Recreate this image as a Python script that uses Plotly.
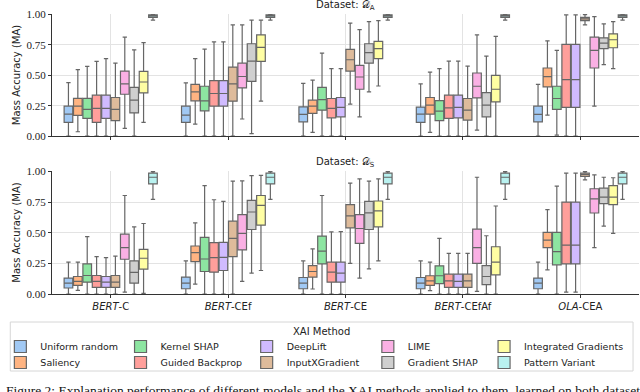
import plotly.graph_objects as go

MODELS = ["BERT-C", "BERT-CEf", "BERT-CE", "BERT-CEfAf", "OLA-CEA"]
MODEL_LABELS = ["<i>BERT</i>-C", "<i>BERT</i>-CEf", "<i>BERT</i>-CE",
                "<i>BERT</i>-CEfAf", "<i>OLA</i>-CEA"]
METHODS = ["Uniform random", "Saliency", "Kernel SHAP", "Guided Backprop",
           "DeepLift", "InputXGradient", "LIME", "Gradient SHAP",
           "Integrated Gradients", "Pattern Variant"]
COLORS = ["#a1c9f4", "#ffb482", "#8de5a1", "#ff9f9b", "#d0bbff",
          "#debb9b", "#fab0e4", "#cfcfcf", "#fffea3", "#b9f2f0"]

# Dataset D_A: one row per method, one value per model
A_LOW = [
    [0, 0, 0, 0, 0],
    [0.035, 0.098, 0.03, 0.03, 0.172],
    [0, 0, 0, 0, 0.008],
    [0, 0, 0, 0, 0],
    [0, 0, 0, 0, 0],
    [0, 0, 0.262, 0, 0.915],
    [0.063, 0.14, 0.158, 0.049, 0.246],
    [0, 0.02, 0.363, 0, 0.588],
    [0.112, 0.287, 0.412, 0, 0.555],
    [0.955, 0.955, 0.955, 0.955, 0.955],
]
A_Q1 = [
    [0.112, 0.112, 0.117, 0.112, 0.117],
    [0.17, 0.29, 0.186, 0.18, 0.404],
    [0.145, 0.207, 0.213, 0.126, 0.219],
    [0.112, 0.246, 0.15, 0.145, 0.235],
    [0.145, 0.246, 0.158, 0.15, 0.235],
    [0.126, 0.287, 0.535, 0.131, 0.95],
    [0.344, 0.396, 0.385, 0.314, 0.56],
    [0.19, 0.45, 0.60, 0.158, 0.719],
    [0.355, 0.615, 0.637, 0.281, 0.727],
    [0.978, 0.978, 0.978, 0.978, 0.978],
]
A_MED = [
    [0.18, 0.172, 0.178, 0.18, 0.178],
    [0.246, 0.363, 0.246, 0.254, 0.489],
    [0.22, 0.29, 0.30, 0.205, 0.309],
    [0.227, 0.35, 0.227, 0.232, 0.465],
    [0.227, 0.35, 0.235, 0.235, 0.465],
    [0.219, 0.43, 0.628, 0.213, 0.965],
    [0.43, 0.49, 0.486, 0.41, 0.705],
    [0.295, 0.617, 0.686, 0.254, 0.765],
    [0.445, 0.73, 0.72, 0.385, 0.793],
    [0.99, 0.99, 0.99, 0.99, 0.99],
]
A_Q3 = [
    [0.246, 0.246, 0.24, 0.238, 0.246],
    [0.31, 0.426, 0.295, 0.317, 0.56],
    [0.31, 0.41, 0.40, 0.292, 0.41],
    [0.336, 0.456, 0.309, 0.336, 0.754],
    [0.336, 0.456, 0.317, 0.336, 0.754],
    [0.317, 0.568, 0.713, 0.309, 0.978],
    [0.535, 0.60, 0.582, 0.519, 0.814],
    [0.40, 0.76, 0.76, 0.357, 0.809],
    [0.533, 0.833, 0.78, 0.50, 0.842],
    [0.998, 0.998, 0.998, 0.998, 0.998],
]
A_HIGH = [
    [0.44, 0.437, 0.434, 0.43, 0.426],
    [0.547, 0.637, 0.46, 0.527, 0.784],
    [0.574, 0.715, 0.683, 0.555, 0.705],
    [0.615, 0.775, 0.555, 0.617, 0.997],
    [0.637, 0.775, 0.555, 0.617, 0.997],
    [0.60, 0.915, 0.93, 0.576, 1.0],
    [0.814, 0.915, 0.877, 0.833, 0.984],
    [0.71, 0.955, 0.943, 0.658, 0.924],
    [0.77, 0.955, 0.95, 0.82, 0.943],
    [1.0, 1.0, 1.0, 1.0, 1.0],
]

# Dataset D_S
S_LOW = [
    [0, 0, 0, 0, 0],
    [0.03, 0.081, 0.041, 0.027, 0.197],
    [0, 0, 0, 0, 0],
    [0, 0, 0, 0, 0.015],
    [0, 0, 0, 0, 0.015],
    [0, 0, 0.251, 0, 0.933],
    [0.016, 0.103, 0.13, 0.022, 0.379],
    [0, 0.17, 0.205, 0, 0.554],
    [0.005, 0.192, 0.27, 0, 0.495],
    [0.773, 0.773, 0.773, 0.773, 0.773],
]
S_Q1 = [
    [0.049, 0.043, 0.043, 0.043, 0.043],
    [0.07, 0.265, 0.138, 0.07, 0.379],
    [0.097, 0.184, 0.246, 0.084, 0.238],
    [0.054, 0.178, 0.097, 0.054, 0.246],
    [0.054, 0.192, 0.097, 0.054, 0.246],
    [0.054, 0.305, 0.541, 0.054, 0.96],
    [0.284, 0.36, 0.414, 0.251, 0.662],
    [0.089, 0.527, 0.527, 0.076, 0.738],
    [0.203, 0.562, 0.549, 0.157, 0.73],
    [0.90, 0.90, 0.90, 0.90, 0.90],
]
S_MED = [
    [0.089, 0.089, 0.089, 0.089, 0.089],
    [0.103, 0.338, 0.184, 0.108, 0.44],
    [0.151, 0.286, 0.351, 0.149, 0.346],
    [0.103, 0.297, 0.178, 0.108, 0.40],
    [0.097, 0.30, 0.17, 0.103, 0.40],
    [0.097, 0.454, 0.638, 0.108, 0.975],
    [0.379, 0.495, 0.535, 0.379, 0.778],
    [0.176, 0.67, 0.663, 0.143, 0.792],
    [0.292, 0.724, 0.679, 0.26, 0.792],
    [0.954, 0.954, 0.954, 0.954, 0.954],
]
S_Q3 = [
    [0.13, 0.138, 0.135, 0.135, 0.13],
    [0.143, 0.392, 0.232, 0.149, 0.503],
    [0.246, 0.462, 0.473, 0.23, 0.503],
    [0.151, 0.419, 0.26, 0.162, 0.751],
    [0.143, 0.422, 0.26, 0.162, 0.751],
    [0.151, 0.595, 0.73, 0.162, 0.987],
    [0.489, 0.649, 0.649, 0.53, 0.86],
    [0.27, 0.765, 0.757, 0.232, 0.865],
    [0.365, 0.805, 0.76, 0.386, 0.886],
    [0.987, 0.987, 0.987, 0.987, 0.987],
]
S_HIGH = [
    [0.26, 0.27, 0.27, 0.27, 0.26],
    [0.26, 0.581, 0.368, 0.26, 0.689],
    [0.468, 0.886, 0.805, 0.454, 0.881],
    [0.305, 0.77, 0.508, 0.332, 0.987],
    [0.297, 0.757, 0.51, 0.332, 0.987],
    [0.31, 0.922, 0.906, 0.332, 1.0],
    [0.805, 0.925, 0.94, 0.954, 0.973],
    [0.549, 0.968, 0.922, 0.476, 0.954],
    [0.576, 0.97, 0.94, 0.719, 0.95],
    [1.0, 1.0, 1.0, 1.0, 1.0],
]

SANS = "DejaVu Sans"
SERIF = "Liberation Serif"
EDGE = "#666666"
TXT = "#222222"

W, H = 640, 392
ML, MR = 48, 1
PW = W - ML - MR


def px_x(p):
    # pixel x -> paper x
    return (p - ML) / PW


def px_y(p):
    return 1 - p / H


# one small legend per entry: 5 columns x 2 rows, read column by column
LEG_LEFT = [-4, 117, 244, 366, 483]
LEG_TOP = [332, 348]

fig = go.Figure()

panels = [
    ("x", "y", "A", A_LOW, A_Q1, A_MED, A_Q3, A_HIGH, True),
    ("x2", "y2", "S", S_LOW, S_Q1, S_MED, S_Q3, S_HIGH, False),
]
for xref, yref, grp, low, q1, med, q3, high, show in panels:
    for i, name in enumerate(METHODS):
        fig.add_trace(go.Box(
            x=MODELS,
            lowerfence=low[i], q1=q1[i], median=med[i], q3=q3[i],
            upperfence=high[i],
            name=name,
            legendgroup=name,
            legend="legend" if i == 0 else f"legend{i + 1}",
            showlegend=show,
            alignmentgroup=grp, offsetgroup=f"{grp}{i}",
            fillcolor=COLORS[i],
            line=dict(color=EDGE, width=1.2),
            whiskerwidth=0.5,
            boxpoints=False,
            xaxis=xref, yaxis=yref,
        ))

axis_common = dict(
    showgrid=True, gridcolor="#e3e3e3", gridwidth=1,
    showline=True, linecolor="#333333", linewidth=1,
    ticks="outside", ticklen=3, tickcolor="#333333",
    zeroline=False, automargin=False,
)
yaxis_common = dict(
    axis_common,
    range=[0, 1.005],
    tickvals=[0, 0.25, 0.5, 0.75, 1.0],
    ticktext=["0.00", "0.25", "0.50", "0.75", "1.00"],
    tickfont=dict(family=SERIF, size=11, color=TXT),
    title=dict(text="Mass Accuracy (MA)", font=dict(family=SANS, size=10, color=TXT),
               standoff=4),
)

legends = {}
for i in range(len(METHODS)):
    key = "legend" if i == 0 else f"legend{i + 1}"
    legends[key] = dict(
        orientation="v",
        x=px_x(LEG_LEFT[i // 2]), xanchor="left",
        y=px_y(LEG_TOP[i % 2]), yanchor="top",
        font=dict(family=SANS, size=9.5, color=TXT),
        bgcolor="rgba(0,0,0,0)", borderwidth=0,
        tracegroupgap=0, itemwidth=30,
    )

fig.update_layout(
    width=W, height=H,
    margin=dict(l=ML, r=MR, t=0, b=0),
    paper_bgcolor="white", plot_bgcolor="white",
    boxmode="group", boxgap=0.2, boxgroupgap=0.08,
    xaxis=dict(axis_common, domain=[0, 1], anchor="y",
               categoryorder="array", categoryarray=MODELS,
               showticklabels=False),
    yaxis=dict(yaxis_common, domain=[px_y(136), px_y(14)], anchor="x"),
    xaxis2=dict(axis_common, domain=[0, 1], anchor="y2",
                categoryorder="array", categoryarray=MODELS,
                tickvals=MODELS, ticktext=MODEL_LABELS,
                tickfont=dict(family=SANS, size=10, color=TXT)),
    yaxis2=dict(yaxis_common, domain=[px_y(294), px_y(171)], anchor="x2"),
    showlegend=True,
    **legends,
)

# legend frame and title
fig.add_shape(type="rect", xref="paper", yref="paper",
              x0=px_x(6), x1=px_x(633), y0=px_y(371), y1=px_y(322),
              line=dict(color="#d6d6d6", width=1), fillcolor="white", layer="below")
fig.add_annotation(text="XAI Method", x=px_x(319), y=px_y(331), xref="paper", yref="paper",
                   xanchor="center", yanchor="middle", showarrow=False,
                   font=dict(family=SANS, size=10, color=TXT))

fig.add_annotation(text="Dataset: 𝒟<sub>A</sub>", x=0.5, y=px_y(14), xref="paper", yref="paper",
                   xanchor="center", yanchor="bottom", showarrow=False,
                   font=dict(family=SANS, size=10, color=TXT))
fig.add_annotation(text="Dataset: 𝒟<sub>S</sub>", x=0.5, y=px_y(171), xref="paper", yref="paper",
                   xanchor="center", yanchor="bottom", showarrow=False,
                   font=dict(family=SANS, size=10, color=TXT))
fig.add_annotation(
    text="Figure 2: Explanation performance of different models and the XAI methods applied to them, learned on both datasets",
    x=px_x(0), y=px_y(381), xref="paper", yref="paper", xanchor="left", yanchor="top",
    showarrow=False, font=dict(family=SERIF, size=13.5, color="#111111"),
)

fig.write_html("out.html", config={"displayModeBar": False},
               post_script="document.body.style.margin='0';")
